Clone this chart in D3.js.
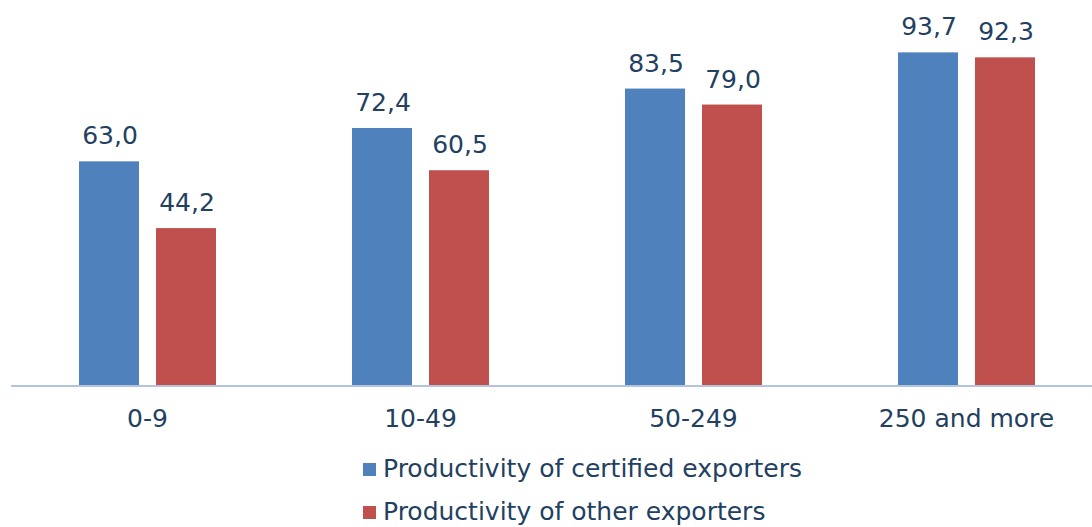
<!DOCTYPE html>
<html>
<head>
<meta charset="utf-8">
<script src="https://cdn.jsdelivr.net/npm/d3@7"></script>
<style>
  html, body { margin: 0; padding: 0; background: #fff; }
  svg { display: block; }
  text { font-family: "DejaVu Sans", Verdana, sans-serif; fill: #22405F; }
</style>
</head>
<body>
<svg id="chart" width="1092" height="527"></svg>
<script>
const categories = ["0-9", "10-49", "50-249", "250 and more"];
const seriesNames = ["Productivity of certified exporters", "Productivity of other exporters"];
const certified = [63.0, 72.4, 83.5, 93.7];
const other = [44.2, 60.5, 79.0, 92.3];
const colors = ["#4F81BD", "#C0504D"];

const seriesValues = [certified, other];
const svg = d3.select("#chart");
const FS = "25px";

const x = d3.scaleBand().domain(categories).range([11, 1103]).paddingInner(0).paddingOuter(0);
const xs = d3.scaleBand().domain(seriesNames).range([68, 205]).paddingInner(0.221);
const y = d3.scaleLinear().domain([0, 100]).range([385, 30]);

const fmt = v => d3.format(".1f")(v).replace(".", ",");

const rows = [];
categories.forEach((c, i) => {
  seriesNames.forEach((s, j) => rows.push({ c, s, j, v: seriesValues[j][i] }));
});

svg.append("g").selectAll("rect").data(rows).join("rect")
  .attr("x", d => x(d.c) + xs(d.s))
  .attr("y", d => y(d.v))
  .attr("width", xs.bandwidth())
  .attr("height", d => y(0) - y(d.v))
  .attr("fill", d => colors[d.j]);

svg.append("g").selectAll("text").data(rows).join("text")
  .attr("x", d => x(d.c) + xs(d.s) + xs.bandwidth() / 2 + 1)
  .attr("y", d => y(d.v) - 17)
  .attr("text-anchor", "middle")
  .style("font-size", FS)
  .text(d => fmt(d.v));

// axis line
svg.append("line")
  .attr("x1", 11).attr("x2", 1092)
  .attr("y1", y(0) + 1).attr("y2", y(0) + 1)
  .attr("stroke", "#B3C4DE").attr("stroke-width", 2);

// category labels
const xAxis = d3.axisBottom(x).tickSize(0).tickPadding(0);
const gx = svg.append("g").attr("transform", `translate(0,${y(0)})`).call(xAxis);
gx.select(".domain").remove();
gx.selectAll("text")
  .attr("y", 42).attr("dy", 0)
  .style("font-size", FS)
  .style("font-family", "\"DejaVu Sans\", Verdana, sans-serif")
  .attr("fill", "#22405F");

// legend
const lg = svg.append("g").selectAll("g").data(seriesNames).join("g")
  .attr("transform", (d, i) => `translate(363,${477 + i * 43})`);
lg.append("rect").attr("x", 0).attr("y", -14).attr("width", 13).attr("height", 13)
  .attr("fill", (d, i) => colors[i]);
lg.append("text").attr("x", 20).attr("y", 0)
  .style("font-size", FS)
  .text(d => d);
</script>
</body>
</html>
